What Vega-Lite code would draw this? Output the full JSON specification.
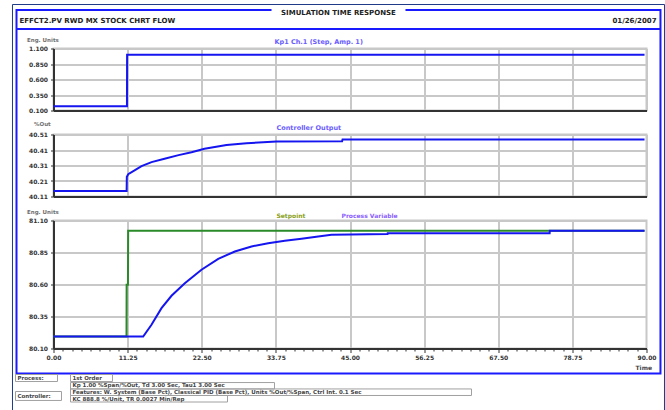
{
"$schema": "https://vega.github.io/schema/vega-lite/v6.json",
"background": "white",
"padding": {"left": 10.5, "top": 2.5, "right": 0, "bottom": 0},
"autosize": {"type": "pad"},
"bounds": "flush",
"spacing": 24,
"datasets": {
 "inp": [{"t":0,"v":0.17},{"t":11.15,"v":0.17},{"t":11.17,"v":1.0},{"t":89.7,"v":1.0}],
 "co": [{"t":0,"v":40.145},{"t":11.1,"v":40.145},{"t":11.13,"v":40.238},{"t":11.34,"v":40.254},{"t":12.3,"v":40.278},{"t":13.36,"v":40.306},{"t":14.88,"v":40.332},{"t":16.85,"v":40.354},{"t":18.98,"v":40.377},{"t":20.95,"v":40.396},{"t":22.92,"v":40.418},{"t":26.26,"v":40.442},{"t":29.3,"v":40.454},{"t":33.86,"v":40.465},{"t":43.8,"v":40.466},{"t":43.87,"v":40.478},{"t":89.7,"v":40.478}],
 "sp": [{"t":0,"v":80.194},{"t":11.08,"v":80.194},{"t":11.1,"v":80.598},{"t":11.3,"v":80.598},{"t":11.33,"v":81.02},{"t":89.7,"v":81.02}],
 "pv": [{"t":0,"v":80.194},{"t":13.61,"v":80.194},{"t":14.87,"v":80.285},{"t":16.39,"v":80.415},{"t":17.91,"v":80.512},{"t":19.93,"v":80.61},{"t":22.46,"v":80.715},{"t":25.0,"v":80.8},{"t":27.52,"v":80.858},{"t":30.05,"v":80.897},{"t":32.58,"v":80.923},{"t":35.11,"v":80.941},{"t":37.64,"v":80.957},{"t":40.17,"v":80.975},{"t":42.19,"v":80.988},{"t":50.7,"v":80.995},{"t":50.72,"v":81.0},{"t":75.3,"v":81.0},{"t":75.32,"v":81.02},{"t":89.7,"v":81.02}]
},
"vconcat": [
 {
  "width": 593, "height": 62,
  "title": {"text": "Kp1 Ch.1 (Step, Amp. 1)", "anchor": "start", "frame": "group", "dx": 221, "offset": -8, "color": "#6a5cff", "fontSize": 6.5},
  "data": {"name": "inp"},
  "mark": {"type": "line", "color": "#1515f0", "strokeWidth": 2},
  "encoding": {
   "x": {"field": "t", "type": "quantitative", "scale": {"domain": [0, 90], "nice": false}, "axis": {"values": [0,11.25,22.5,33.75,45,56.25,67.5,78.75,90], "labels": false, "ticks": false, "title": null}},
   "y": {"field": "v", "type": "quantitative", "scale": {"domain": [0.1, 1.1], "nice": false, "zero": false}, "axis": {"values": [0.1,0.35,0.6,0.85,1.1], "format": ".3f", "title": "Eng. Units", "titleAngle": 0, "titleAlign": "left", "titleBaseline": "middle", "titleX": -27, "titleY": -9}}
  }
 },
 {
  "width": 593, "height": 62,
  "title": {"text": "Controller Output", "anchor": "start", "frame": "group", "dx": 223, "offset": -10, "color": "#6a5cff", "fontSize": 6.5},
  "data": {"name": "co"},
  "mark": {"type": "line", "color": "#1515f0", "strokeWidth": 2},
  "encoding": {
   "x": {"field": "t", "type": "quantitative", "scale": {"domain": [0, 90], "nice": false}, "axis": {"values": [0,11.25,22.5,33.75,45,56.25,67.5,78.75,90], "labels": false, "ticks": false, "title": null}},
   "y": {"field": "v", "type": "quantitative", "scale": {"domain": [40.11, 40.51], "nice": false, "zero": false}, "axis": {"values": [40.11,40.21,40.31,40.41,40.51], "format": ".2f", "title": "%Out", "titleAngle": 0, "titleAlign": "left", "titleBaseline": "middle", "titleX": -20, "titleY": -11}}
  }
 },
 {
  "width": 593, "height": 128,
  "resolve": {"axis": {"x": "independent", "y": "independent"}},
  "layer": [
   {"data": {"name": "sp"}, "mark": {"type": "line", "color": "#2a8a2a", "strokeWidth": 2},
    "encoding": {
     "x": {"field": "t", "type": "quantitative", "scale": {"domain": [0, 90], "nice": false},
      "axis": {"values": [0,1.40625,2.8125,4.21875,5.625,7.03125,8.4375,9.84375,11.25,12.65625,14.0625,15.46875,16.875,18.28125,19.6875,21.09375,22.5,23.90625,25.3125,26.71875,28.125,29.53125,30.9375,32.34375,33.75,35.15625,36.5625,37.96875,39.375,40.78125,42.1875,43.59375,45,46.40625,47.8125,49.21875,50.625,52.03125,53.4375,54.84375,56.25,57.65625,59.0625,60.46875,61.875,63.28125,64.6875,66.09375,67.5,68.90625,70.3125,71.71875,73.125,74.53125,75.9375,77.34375,78.75,80.15625,81.5625,82.96875,84.375,85.78125,87.1875,88.59375,90],
       "labelExpr": "datum.value % 11.25 === 0 ? format(datum.value, '.2f') : ''",
       "labelOverlap": false, "labelFlush": false, "labelPadding": 2, "grid": false,
       "tickSize": {"condition": {"test": "datum.value % 11.25 === 0", "value": 4}, "value": 2.5},
       "title": "Time", "titleX": 598, "titleY": 19, "titleAlign": "right", "titleBaseline": "middle", "titleColor": "#444444", "titleFontSize": 6}},
     "y": {"field": "v", "type": "quantitative", "scale": {"domain": [80.1, 81.1], "nice": false, "zero": false},
      "axis": {"values": [80.1,80.35,80.6,80.85,81.1], "format": ".2f", "labelOverlap": false, "grid": true, "title": "Eng. Units", "titleAngle": 0, "titleAlign": "left", "titleBaseline": "middle", "titleX": -27, "titleY": -9}}
    }},
   {"data": {"name": "pv"}, "mark": {"type": "line", "color": "#1515f0", "strokeWidth": 2},
    "encoding": {
     "x": {"field": "t", "type": "quantitative", "axis": {"orient": "top", "values": [11.25,22.5,33.75,45,56.25,67.5,78.75], "grid": true, "labels": false, "ticks": false, "domain": false, "title": null}},
     "y": {"field": "v", "type": "quantitative", "axis": {"values": [80.35,80.6,80.85], "grid": true, "labels": false, "ticks": false, "domain": false, "title": null}}}},
   {"data": {"values": [{}]}, "mark": {"type": "rect", "fill": "white", "fillOpacity": 0, "stroke": "#1f3c88", "strokeWidth": 1},
    "encoding": {"x": {"datum": -6.223, "type": "quantitative", "axis": null}, "x2": {"datum": 92.73}, "y": {"datum": 82.7875, "type": "quantitative", "axis": null}, "y2": {"datum": 79.53}}},
   {"data": {"values": [{}]}, "mark": {"type": "rect", "fill": "white", "fillOpacity": 0, "stroke": "#1a1aff", "strokeWidth": 2},
    "encoding": {"x": {"datum": -5.615, "type": "quantitative", "axis": null}, "x2": {"datum": 92.12}, "y": {"datum": 82.7445, "type": "quantitative", "axis": null}, "y2": {"datum": 79.905}}},
   {"data": {"values": [{}]}, "mark": {"type": "rule", "color": "#1a1aff", "strokeWidth": 2},
    "encoding": {"x": {"datum": -5.615, "type": "quantitative", "axis": null}, "x2": {"datum": 92.12}, "y": {"datum": 82.596, "type": "quantitative", "axis": null}}},
   {"data": {"values": [{}]}, "mark": {"type": "rect", "fill": "white", "stroke": null},
    "encoding": {"x": {"datum": 33.09, "type": "quantitative", "axis": null}, "x2": {"datum": 53.42}, "y": {"datum": 82.76, "type": "quantitative", "axis": null}, "y2": {"datum": 82.73}}},
   {"data": {"values": [{}]}, "mark": {"type": "text", "text": "SIMULATION TIME RESPONSE", "align": "center", "baseline": "middle", "fontSize": 7, "color": "#222222"},
    "encoding": {"x": {"datum": 43.25, "type": "quantitative", "axis": null}, "y": {"datum": 82.725, "type": "quantitative", "axis": null}}},
   {"data": {"values": [{}]}, "mark": {"type": "text", "text": "EFFCT2.PV  RWD MX STOCK CHRT FLOW", "align": "left", "baseline": "middle", "fontSize": 7, "color": "#222222"},
    "encoding": {"x": {"datum": -5.16, "type": "quantitative", "axis": null}, "y": {"datum": 82.655, "type": "quantitative", "axis": null}}},
   {"data": {"values": [{}]}, "mark": {"type": "text", "text": "01/26/2007", "align": "right", "baseline": "middle", "fontSize": 7, "color": "#222222"},
    "encoding": {"x": {"datum": 91.52, "type": "quantitative", "axis": null}, "y": {"datum": 82.655, "type": "quantitative", "axis": null}}},
   {"data": {"values": [{}]}, "mark": {"type": "rect", "fill": "white", "fillOpacity": 0, "stroke": "#a0a0a0", "strokeWidth": 1},
    "encoding": {"x": {"datum": -5.767, "type": "quantitative", "axis": null}, "x2": {"datum": 0.607}, "y": {"datum": 79.897, "type": "quantitative", "axis": null}, "y2": {"datum": 79.842}}},
   {"data": {"values": [{}]}, "mark": {"type": "rect", "fill": "white", "fillOpacity": 0, "stroke": "#a0a0a0", "strokeWidth": 1},
    "encoding": {"x": {"datum": 2.58, "type": "quantitative", "axis": null}, "x2": {"datum": 8.954}, "y": {"datum": 79.897, "type": "quantitative", "axis": null}, "y2": {"datum": 79.842}}},
   {"data": {"values": [{}]}, "mark": {"type": "rect", "fill": "white", "fillOpacity": 0, "stroke": "#a0a0a0", "strokeWidth": 1},
    "encoding": {"x": {"datum": -5.767, "type": "quantitative", "axis": null}, "x2": {"datum": 1.214}, "y": {"datum": 79.764, "type": "quantitative", "axis": null}, "y2": {"datum": 79.694}}},
   {"data": {"values": [{}]}, "mark": {"type": "rect", "fill": "white", "fillOpacity": 0, "stroke": "#a0a0a0", "strokeWidth": 1},
    "encoding": {"x": {"datum": 2.58, "type": "quantitative", "axis": null}, "x2": {"datum": 33.54}, "y": {"datum": 79.834, "type": "quantitative", "axis": null}, "y2": {"datum": 79.784}}},
   {"data": {"values": [{}]}, "mark": {"type": "rect", "fill": "white", "fillOpacity": 0, "stroke": "#a0a0a0", "strokeWidth": 1},
    "encoding": {"x": {"datum": 2.58, "type": "quantitative", "axis": null}, "x2": {"datum": 63.44}, "y": {"datum": 79.784, "type": "quantitative", "axis": null}, "y2": {"datum": 79.733}}},
   {"data": {"values": [{}]}, "mark": {"type": "rect", "fill": "white", "fillOpacity": 0, "stroke": "#a0a0a0", "strokeWidth": 1},
    "encoding": {"x": {"datum": 2.58, "type": "quantitative", "axis": null}, "x2": {"datum": 26.41}, "y": {"datum": 79.733, "type": "quantitative", "axis": null}, "y2": {"datum": 79.682}}},
   {"data": {"values": [{}]}, "mark": {"type": "text", "text": "Process:", "align": "left", "baseline": "middle", "fontSize": 5.5, "color": "#444444"},
    "encoding": {"x": {"datum": -5.464, "type": "quantitative", "axis": null}, "y": {"datum": 79.87, "type": "quantitative", "axis": null}}},
   {"data": {"values": [{}]}, "mark": {"type": "text", "text": "1st Order", "align": "left", "baseline": "middle", "fontSize": 5.5, "color": "#444444"},
    "encoding": {"x": {"datum": 2.884, "type": "quantitative", "axis": null}, "y": {"datum": 79.87, "type": "quantitative", "axis": null}}},
   {"data": {"values": [{}]}, "mark": {"type": "text", "text": "Controller:", "align": "left", "baseline": "middle", "fontSize": 5.5, "color": "#444444"},
    "encoding": {"x": {"datum": -5.464, "type": "quantitative", "axis": null}, "y": {"datum": 79.729, "type": "quantitative", "axis": null}}},
   {"data": {"values": [{}]}, "mark": {"type": "text", "text": "Kp  1.00 %Span/%Out, Td  3.00 Sec, Tau1  3.00 Sec", "align": "left", "baseline": "middle", "fontSize": 5.5, "color": "#444444"},
    "encoding": {"x": {"datum": 2.884, "type": "quantitative", "axis": null}, "y": {"datum": 79.811, "type": "quantitative", "axis": null}}},
   {"data": {"values": [{}]}, "mark": {"type": "text", "text": "Features: W. System (Base Pct), Classical PID (Base Pct), Units %Out/%Span, Ctrl Int. 0.1 Sec", "align": "left", "baseline": "middle", "fontSize": 5.5, "color": "#444444"},
    "encoding": {"x": {"datum": 2.884, "type": "quantitative", "axis": null}, "y": {"datum": 79.76, "type": "quantitative", "axis": null}}},
   {"data": {"values": [{}]}, "mark": {"type": "text", "text": "KC  888.8 %/Unit, TR  0.0027 Min/Rep", "align": "left", "baseline": "middle", "fontSize": 5.5, "color": "#444444"},
    "encoding": {"x": {"datum": 2.884, "type": "quantitative", "axis": null}, "y": {"datum": 79.709, "type": "quantitative", "axis": null}}},
   {"data": {"values": [{}]}, "mark": {"type": "text", "text": "Setpoint", "align": "left", "baseline": "middle", "fontSize": 6, "color": "#8aa020"},
    "encoding": {"x": {"datum": 33.84, "type": "quantitative", "axis": null}, "y": {"datum": 81.139, "type": "quantitative", "axis": null}}},
   {"data": {"values": [{}]}, "mark": {"type": "text", "text": "Process Variable", "align": "left", "baseline": "middle", "fontSize": 6, "color": "#8a60ff"},
    "encoding": {"x": {"datum": 43.71, "type": "quantitative", "axis": null}, "y": {"datum": 81.139, "type": "quantitative", "axis": null}}}
  ]
 }
],
"config": {
 "font": "DejaVu Sans",
 "view": {"stroke": "#c8c8c8", "strokeWidth": 2},
 "axis": {"labelFont": "DejaVu Sans", "labelFontSize": 6, "labelFontWeight": "bold", "labelColor": "#333333", "gridColor": "#c8c8c8", "gridWidth": 2, "domainColor": "#333333", "domainWidth": 2, "tickColor": "#333333", "tickSize": 3, "labelPadding": 3, "titleFont": "DejaVu Sans", "titleFontSize": 5.5, "titleFontWeight": "bold", "titleColor": "#707070"},
 "title": {"font": "DejaVu Sans", "fontSize": 6, "fontWeight": "bold"},
 "text": {"font": "DejaVu Sans", "fontWeight": "bold"}
}
}
